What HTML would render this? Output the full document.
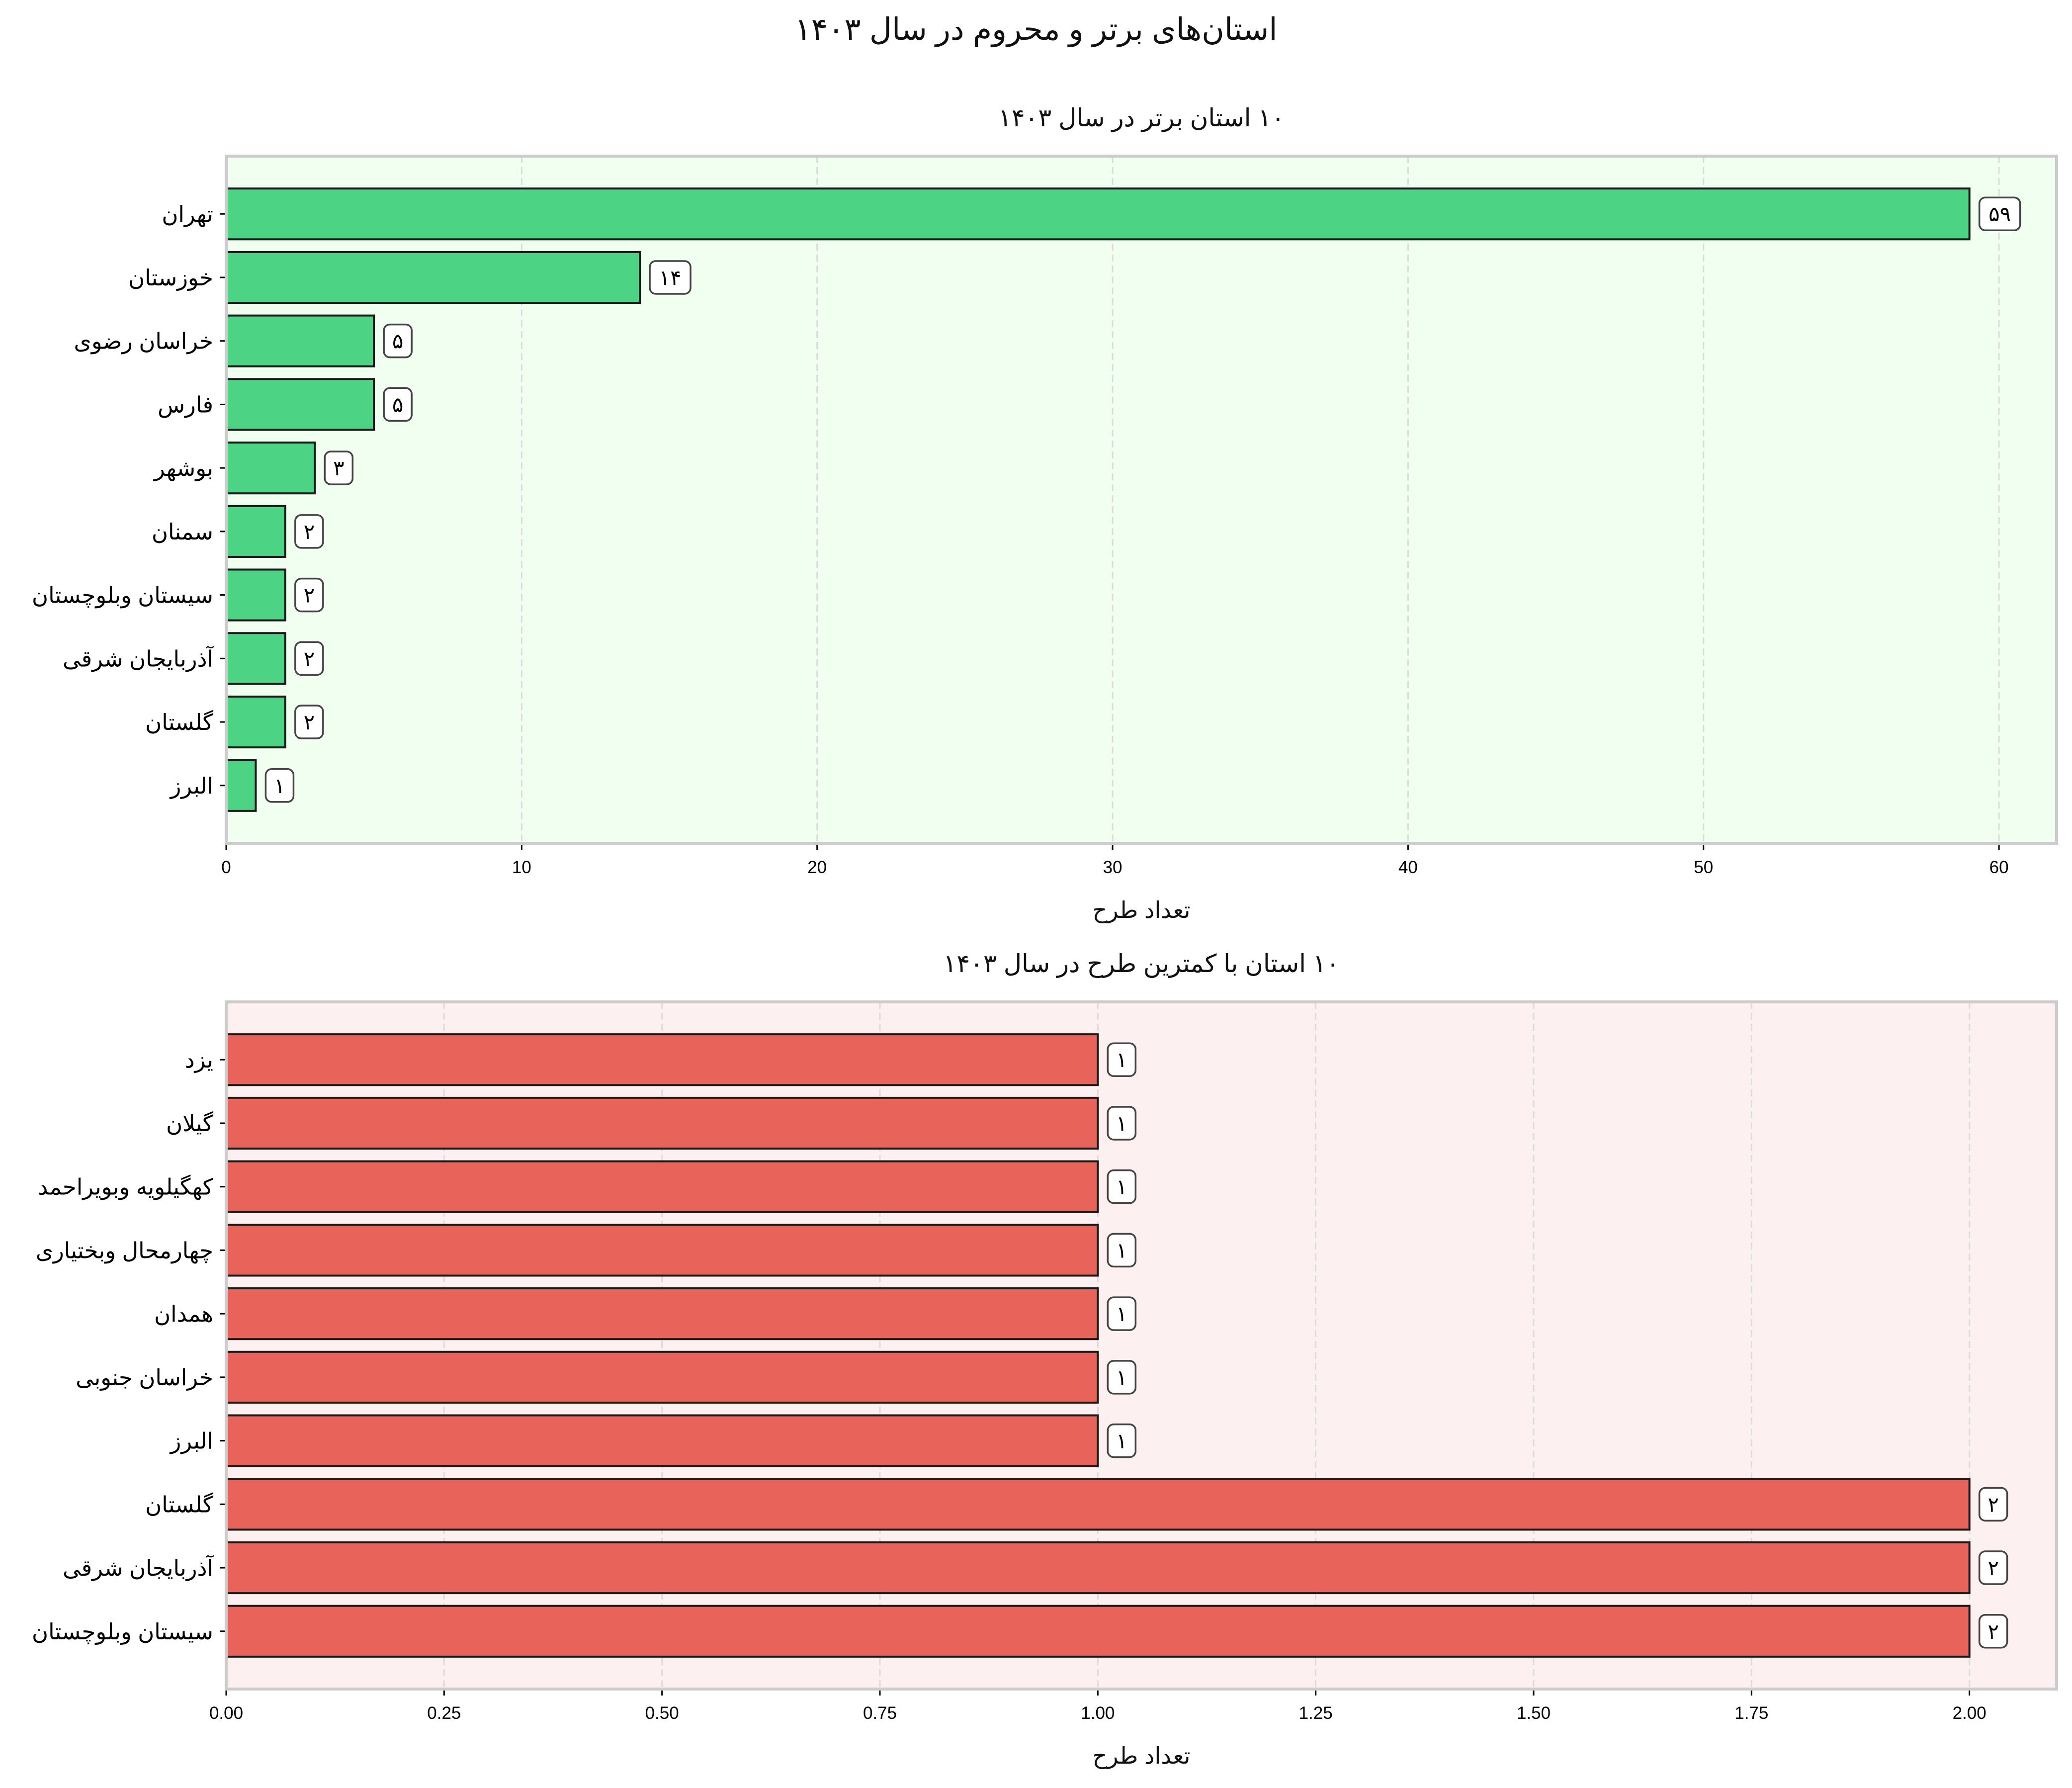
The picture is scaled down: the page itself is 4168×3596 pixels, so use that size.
<!DOCTYPE html>
<html><head><meta charset="utf-8">
<style>
html,body{margin:0;padding:0;background:#fff;}
svg{display:block;font-family:"Liberation Sans","DejaVu Sans",sans-serif;}
.rtl{direction:rtl;unicode-bidi:embed;}
</style></head>
<body>
<svg id="chart" width="4168" height="3596" viewBox="0 0 4168 3596" xmlns="http://www.w3.org/2000/svg">
<text class="rtl" x="2084" y="80" text-anchor="middle" font-size="62" fill="#111">استان‌های برتر و محروم در سال ۱۴۰۳</text>
</svg>
<script>
const topCats = ["تهران","خوزستان","خراسان رضوی","فارس","بوشهر","سمنان","سیستان وبلوچستان","آذربایجان شرقی","گلستان","البرز"];
const topVals = [59,14,5,5,3,2,2,2,2,1];
const topTicks = [0,10,20,30,40,50,60];
const topTickLabels = ["0","10","20","30","40","50","60"];
const botCats = ["یزد","گیلان","کهگیلویه وبویراحمد","چهارمحال وبختیاری","همدان","خراسان جنوبی","البرز","گلستان","آذربایجان شرقی","سیستان وبلوچستان"];
const botVals = [1,1,1,1,1,1,1,2,2,2];
const botTicks = [0,0.25,0.5,0.75,1,1.25,1.5,1.75,2];
const botTickLabels = ["0.00","0.25","0.50","0.75","1.00","1.25","1.50","1.75","2.00"];

const svg = document.getElementById('chart');
const NS = "http://www.w3.org/2000/svg";
function mk(tag, attrs, parent){
  const e = document.createElementNS(NS, tag);
  for (const k in attrs) e.setAttribute(k, attrs[k]);
  (parent||svg).appendChild(e);
  return e;
}
function fa(n){ return String(n).replace(/\d/g, d => "۰۱۲۳۴۵۶۷۸۹"[d]); }

function panel(opt){
  const L=455, R=4137, T=opt.top, B=opt.top+1382;
  const xmax = opt.xmax;
  const xs = v => L + (v/xmax)*(R-L);
  const n = opt.cats.length;
  const pad = 0.91, span = (n-1) + 2*pad;
  const ys = i => T + (pad + i)*(B-T)/span;
  const bh = 0.8*(B-T)/span;
  const g = mk('g', {});
  
  
  const bg = mk('rect', {x:L, y:T, width:R-L, height:B-T, fill:opt.bg}, g);
  
  
  opt.ticks.forEach((t,i)=>{
    const x = xs(t);
    const gl = mk('line', {x1:x, x2:x, y1:T, y2:B, stroke:'#dcdcdc', 'stroke-width':3, 'stroke-dasharray':'14,8'}, g);
    
    
    mk('line', {x1:x, x2:x, y1:B, y2:B+13, stroke:'#000', 'stroke-width':3}, g);
    const tl = mk('text', {x:x, y:B+60, 'text-anchor':'middle', 'font-size':35, fill:'#000'}, g);
    tl.textContent = opt.tickLabels[i];
    
    
  });
  opt.cats.forEach((c,i)=>{
    const y = ys(i), v = opt.vals[i];
    const bar = mk('rect', {x:L, y:y-bh/2, width:xs(v)-L, height:bh, fill:opt.color, stroke:'#1a1a1a', 'stroke-width':4}, g);
    
    
    mk('line', {x1:L-13, x2:L, y1:y, y2:y, stroke:'#000', 'stroke-width':3}, g);
    const yl = mk('text', {x:L-26, y:y+16, 'text-anchor':'end', 'font-size':45, fill:'#000'}, g);
    yl.textContent = c;
    
    
    const s = fa(v);
    const w = 30 + s.length*26;
    const bx = xs(v) + 20;
    const box = mk('rect', {x:bx, y:y-33, width:w, height:66, rx:12, fill:'#fff', stroke:'#444', 'stroke-width':3.5}, g);
    
    
    const vt = mk('text', {x:bx+w/2, y:y+15, 'text-anchor':'middle', 'font-size':42, fill:'#000'}, g);
    vt.textContent = s;
    
    
  });
  const fr = mk('rect', {x:L, y:T, width:R-L, height:B-T, fill:'none', stroke:'#cccccc', 'stroke-width':6}, g);
  
  
  const st = mk('text', {x:(L+R)/2, y:T-60, 'text-anchor':'middle', 'font-size':50, fill:'#111', class:'rtl'}, g);
  st.textContent = opt.title;
  
  
  const xl = mk('text', {x:(L+R)/2, y:B+150, 'text-anchor':'middle', 'font-size':46, fill:'#111', class:'rtl'}, g);
  xl.textContent = 'تعداد طرح';
  
  
}
panel({name:'top-provinces-chart', top:314, xmax:61.95, cats:topCats, vals:topVals, ticks:topTicks, tickLabels:topTickLabels, bg:'#f0fff0', color:'#4cd384', title:'۱۰ استان برتر در سال ۱۴۰۳'});
panel({name:'bottom-provinces-chart', top:2015, xmax:2.1, cats:botCats, vals:botVals, ticks:botTicks, tickLabels:botTickLabels, bg:'#fdf0f0', color:'#e8645a', title:'۱۰ استان با کمترین طرح در سال ۱۴۰۳'});
</script>
</body></html>
